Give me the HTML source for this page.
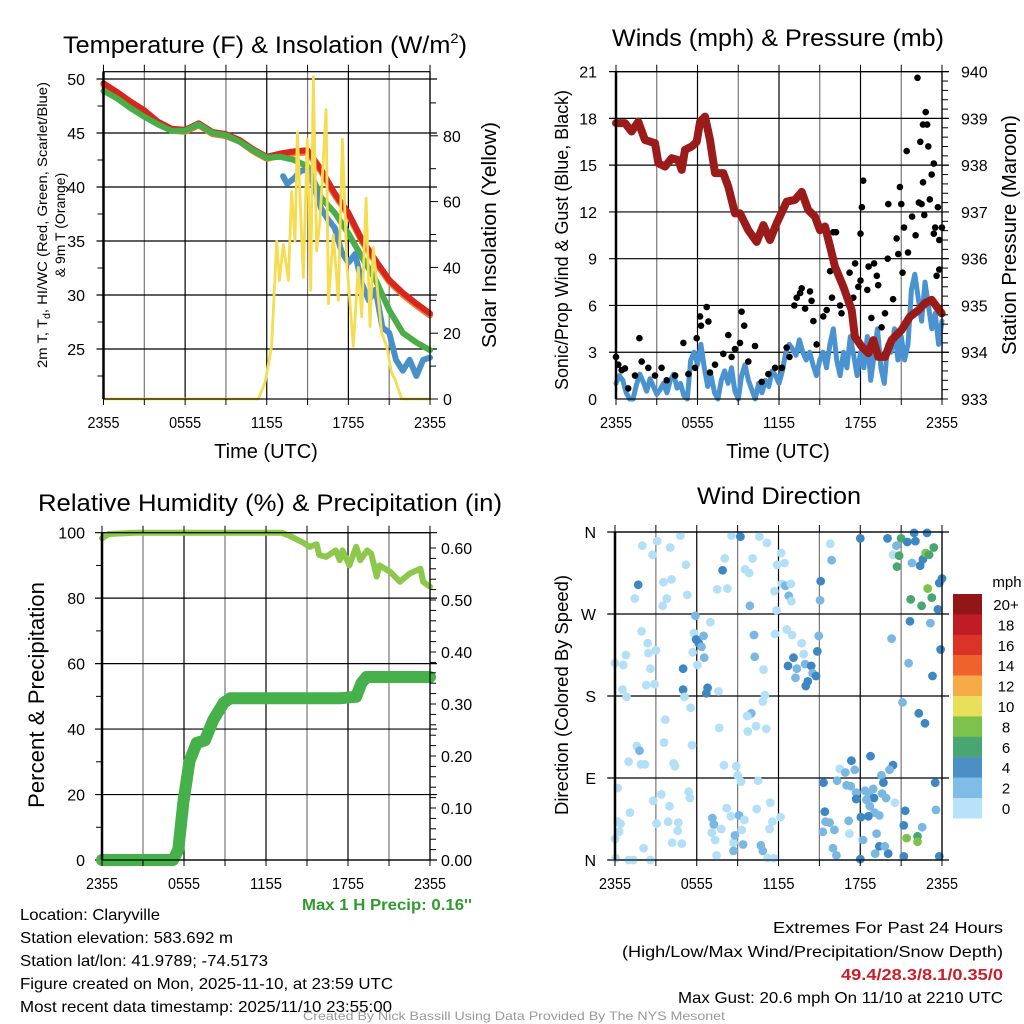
<!DOCTYPE html>
<html><head><meta charset="utf-8"><style>
html,body{margin:0;padding:0;background:#fff;}
svg{display:block;font-family:"Liberation Sans",sans-serif;}
</style></head><body>
<svg id="fig" width="1024" height="1024" viewBox="0 0 1024 1024">
<rect x="0" y="0" width="1024" height="1024" fill="#fff"/>
<g id="grid"></g>
<g id="marks"></g>
<g id="axes"></g>
<text x="265" y="53" font-size="24" text-anchor="middle" textLength="404" lengthAdjust="spacingAndGlyphs">Temperature (F) &amp; Insolation (W/m<tspan font-size="14" dy="-10">2</tspan><tspan dy="10">)</tspan></text>
<text x="778" y="46" font-size="24" text-anchor="middle" textLength="332" lengthAdjust="spacingAndGlyphs">Winds (mph) &amp; Pressure (mb)</text>
<text x="270" y="511" font-size="24" text-anchor="middle" textLength="464" lengthAdjust="spacingAndGlyphs">Relative Humidity (%) &amp; Precipitation (in)</text>
<text x="779" y="504" font-size="24" text-anchor="middle" textLength="164" lengthAdjust="spacingAndGlyphs">Wind Direction</text>
<text x="266" y="458" font-size="20" text-anchor="middle">Time (UTC)</text>
<text x="778" y="458" font-size="20" text-anchor="middle">Time (UTC)</text>
<text transform="translate(47,225) rotate(-90)" font-size="14" text-anchor="middle" textLength="286" lengthAdjust="spacingAndGlyphs">2m T, T<tspan font-size="10" dy="3">d</tspan><tspan dy="-3">, HI/WC (Red, Green, Scarlet/Blue)</tspan></text>
<text transform="translate(65,225) rotate(-90)" font-size="14" text-anchor="middle">&amp; 9m T (Orange)</text>
<text transform="translate(496,235) rotate(-90)" font-size="20" text-anchor="middle" textLength="226" lengthAdjust="spacingAndGlyphs">Solar Insolation (Yellow)</text>
<text transform="translate(568,240) rotate(-90)" font-size="18" text-anchor="middle" textLength="300" lengthAdjust="spacingAndGlyphs">Sonic/Prop Wind &amp; Gust (Blue, Black)</text>
<text transform="translate(1016,235) rotate(-90)" font-size="20" text-anchor="middle" textLength="240" lengthAdjust="spacingAndGlyphs">Station Pressure (Maroon)</text>
<text transform="translate(44,695) rotate(-90)" font-size="22" text-anchor="middle" textLength="226" lengthAdjust="spacingAndGlyphs">Percent &amp; Precipitation</text>
<text transform="translate(568,695) rotate(-90)" font-size="18" text-anchor="middle" textLength="240" lengthAdjust="spacingAndGlyphs">Direction (Colored By Speed)</text>
<text x="472" y="910" font-size="16" font-weight="bold" fill="#2f9a2f" text-anchor="end" textLength="170" lengthAdjust="spacingAndGlyphs">Max 1 H Precip: 0.16''</text>
<text x="20" y="920" font-size="16" textLength="140" lengthAdjust="spacingAndGlyphs">Location: Claryville</text>
<text x="20" y="943" font-size="16" textLength="213" lengthAdjust="spacingAndGlyphs">Station elevation: 583.692 m</text>
<text x="20" y="966" font-size="16" textLength="248" lengthAdjust="spacingAndGlyphs">Station lat/lon: 41.9789; -74.5173</text>
<text x="20" y="989" font-size="16" textLength="373" lengthAdjust="spacingAndGlyphs">Figure created on Mon, 2025-11-10, at 23:59 UTC</text>
<text x="20" y="1012" font-size="16" textLength="372" lengthAdjust="spacingAndGlyphs">Most recent data timestamp: 2025/11/10 23:55:00</text>
<text x="1003" y="933" font-size="16" text-anchor="end" textLength="230" lengthAdjust="spacingAndGlyphs">Extremes For Past 24 Hours</text>
<text x="1003" y="957" font-size="16" text-anchor="end" textLength="381" lengthAdjust="spacingAndGlyphs">(High/Low/Max Wind/Precipitation/Snow Depth)</text>
<text x="1003" y="980" font-size="16" font-weight="bold" fill="#c8202a" text-anchor="end" textLength="162" lengthAdjust="spacingAndGlyphs">49.4/28.3/8.1/0.35/0</text>
<text x="1003" y="1003" font-size="16" text-anchor="end" textLength="325" lengthAdjust="spacingAndGlyphs">Max Gust: 20.6 mph On 11/10 at 2210 UTC</text>
<text x="514" y="1020" font-size="12" fill="#999" text-anchor="middle" textLength="422" lengthAdjust="spacingAndGlyphs">Created By Nick Bassill Using Data Provided By The NYS Mesonet</text>
<text x="1007" y="587" font-size="15" text-anchor="middle">mph</text>
<g id="legend"></g>
</svg>
<script>
// ---------- DATA ----------
const tempHours = [0,1,2,3,4,5,6,7,8,9,10,11,12,13,14,15,16,17,18,19,20,21,22,23,24];
const temp2m = [49.6,48.8,47.9,47.1,46.05,45.4,45.3,45.9,45.1,44.9,44.35,43.5,42.8,43.1,43.3,43.4,41.6,39.4,37.6,35.1,33.2,31.4,30.2,29.2,28.3];
const temp9m = [49.4,48.6,47.7,46.9,45.9,45.2,45.1,45.7,44.9,44.7,44.2,43.3,42.6,42.9,43.1,43.2,41.4,39.2,37.4,34.9,33.0,31.2,30.0,29.0,28.1];
const dewpoint = [48.9,48.2,47.3,46.5,45.8,45.2,45.2,45.8,45.0,44.8,44.2,43.4,42.7,42.8,42.5,41.9,39.0,37.6,35.7,33.5,31.4,28.6,26.5,25.6,24.9];
const wcHours = [6.8,9.9,13.2,13.5,14,14.5,15,15.5,16,16.5,17,17.5,18,18.5,19,19.5,20,20.5,21,21.5,22,22.5,23,23.5,24];
const windChill = [44.1,43.6,41.0,40.3,40.8,41.5,41.6,40.0,38.0,37.0,36.2,34.0,33.0,33.8,31.0,29.5,30.5,27.0,26.5,24.0,23.0,24.0,22.5,24.0,24.2];
const solarHours = [0,11.38,11.87,12.36,12.73,12.93,13.22,13.59,13.83,14.08,14.25,14.69,14.98,15.23,15.42,15.67,15.91,16.36,16.53,16.89,17.26,17.56,17.88,18.36,18.73,18.98,19.30,19.59,19.83,20.45,20.82,21.18,21.43,21.92,24];
const solar = [0,0,5,16,48,36,47,36,63,48,81,37,79,33,98,45,54,88,29,50,30,79,42,16,40,25,61,22,46,20,16,8,6,0,0];

const pressHours = [0,0.66,1.15,1.64,2.13,2.87,3.12,3.61,4.10,4.59,4.84,5.08,5.57,5.94,6.19,6.55,6.92,7.29,7.90,8.27,8.76,9.13,9.74,10.36,10.85,11.34,11.83,12.57,13.18,13.67,14.16,14.65,15.02,15.39,15.76,16.12,16.74,17.35,17.59,18.09,18.58,18.94,19.31,19.80,20.29,21.03,21.64,22.26,22.75,23.24,23.98];
const pressure = [938.90,938.90,938.72,938.93,938.54,938.47,938.04,937.97,938.15,938.11,937.90,938.33,938.40,938.50,938.93,939.04,938.54,937.83,937.83,937.54,936.97,936.97,936.61,936.36,936.72,936.40,936.76,937.22,937.26,937.43,937.04,936.90,936.61,936.69,936.26,935.83,935.40,934.90,934.33,934.12,933.98,934.26,933.90,933.90,934.26,934.48,934.76,934.90,935.05,935.12,934.83];
const windStep = 0.25;
const windSpeed = [1.0,1.5,1.2,0.4,0.0,0.0,0.9,1.6,1.1,0.5,1.3,0.8,0.3,
 0.6,1.0,0.4,1.2,1.6,0.7,1.0,0.2,0.0,2.5,3.0,2.2,
 3.5,2.0,0.8,1.5,0.4,0.0,1.2,1.8,1.0,2.0,0.5,0.0,
 1.5,2.2,1.2,0.6,0.0,1.0,0.4,1.2,0.8,1.8,1.5,1.0,
 1.8,3.0,3.5,3.2,2.8,3.8,3.0,2.5,3.0,2.2,1.5,2.5,
 3.0,2.0,3.5,4.5,2.5,1.5,3.0,2.0,4.0,2.8,1.5,3.0,
 2.0,4.0,1.2,2.8,4.5,2.0,1.0,3.5,3.0,4.5,2.5,4.0,
 2.5,3.5,7.0,8.0,6.5,5.0,7.5,6.0,4.5,5.5,3.5,5.0];
const gustHours = [0.0,0.17,0.42,0.66,0.9,1.4,1.72,1.89,2.38,2.87,3.36,3.73,4.35,4.96,5.33,5.82,5.94,6.19,6.26,6.68,6.8,6.92,7.29,7.9,8.27,8.51,8.76,9.25,9.44,9.13,9.74,10.23,10.73,11.22,11.71,12.21,12.57,12.77,13.13,13.3,13.55,13.67,13.92,14.28,14.4,14.53,14.77,15.26,15.51,15.76,16.0,16.2,15.9,16.5,16.6,17.2,17.47,17.6,17.84,18.0,18.0,18.1,18.2,18.5,18.6,18.8,19.0,19.2,19.3,19.55,19.8,20.05,20.0,20.4,20.66,20.78,20.9,21.0,21.1,21.2,21.4,21.5,21.8,22.06,22.2,22.3,22.4,22.5,22.6,22.7,22.8,22.6,22.9,22.99,23.1,23.24,23.4,23.4,23.5,23.7,23.8,23.99,23.8,23.6];
const gusts = [2.7,2.2,1.85,1.96,0.68,1.5,3.9,2.4,2.0,1.5,2.0,1.2,1.5,3.6,1.6,2.0,3.9,5.3,4.7,5.9,4.97,1.7,2.2,2.9,4.1,2.7,3.2,5.6,4.7,3.6,2.4,3.4,1.1,1.6,2.0,2.0,3.3,2.7,6.0,6.5,6.8,7.1,5.8,6.9,6.3,5.0,3.5,5.3,5.7,8.2,10.7,10.7,6.5,6.0,5.5,8.1,6.5,8.7,7.2,7.6,10.6,12.3,14.0,7.0,8.5,5.2,8.7,7.9,7.3,4.6,5.5,12.5,9.0,6.4,10.3,9.3,13.6,12.5,8.1,11.0,15.9,9.4,11.7,10.5,20.6,12.6,16.5,12.5,17.6,11.8,18.4,13.9,17.6,16.2,12.8,14.4,15.1,10.6,11.0,12.3,10.2,11.0,8.3,7.9];

const rhHours = [0,0.5,2.5,13.15,13.75,14.7,15.2,15.7,15.9,16.4,17.1,17.4,17.6,18.1,18.6,18.9,19.4,19.7,20.1,20.3,21.1,21.8,22.5,23.3,23.5,24];
const rh = [98.3,99.6,100,100,99,97,95.7,96.5,93.2,92.6,94.6,91.6,94.6,90,95.7,91.6,94.6,93.6,86.6,90,88,85,87.5,89,85,83.5];
const precipHours = [0,5.2,5.58,5.95,6.4,6.93,7.53,8.15,8.9,9.37,17.4,18.6,18.98,19.35,24];
const precip = [0,0,0.02,0.11,0.19,0.225,0.23,0.27,0.302,0.311,0.311,0.314,0.34,0.352,0.352];

const dirHours = [2.0,3.1,2.75,4.05,4.8,1.7,1.45,3.55,4.15,3.8,3.5,5.2,5.3,1.95,2.4,0.8,2.45,3.0,0,0.6,2.6,2.3,2.9,0.55,0.85,5.0,5.0,5.1,5.55,3.7,3.6,5.65,1.6,1.8,1.0,1.9,2.2,4.3,4.4,0.2,2.8,3.4,4.0,5.4,5.5,1.1,0.2,0.4,0.3,3.05,3.9,4.65,4.6,0,2.1,4.2,4.9,0.05,1.0,1.35,2.6,
5.9,5.8,5.95,6.15,6.5,7.0,6.35,5.7,6.55,6.05,6.8,6.7,7.6,7.9,8.05,7.5,8.25,8.55,9.2,10.6,11.15,10.1,9.55,9.85,11.9,12.2,12.45,12.25,12.5,12.9,11.7,12.75,12.95,9.9,11.85,10.2,10.25,10.9,11.75,12.6,13.0,11.0,10.85,10.0,9.7,10.35,9.75,11.1,7.65,8.0,8.9,9.0,9.25,10.5,11.4,10.4,8.2,8.5,9.1,9.5,9.3,7.15,7.25,7.8,7.1,7.35,8.7,8.8,9.4,8.7,10.7,10.85,11.35,11.55,12.15,11.2,11.65,7.45,
13.7,13.85,13.1,12.7,13.35,13.95,14.4,14.5,14.15,14.0,14.75,13.25,14.95,14.85,15.8,15.9,15.1,15.05,17.35,16.5,16.9,17.6,16.3,17.3,17.0,15.3,15.4,15.45,15.25,15.75,16.1,17.2,17.15,16.0,16.25,
18.0,20.0,21.0,20.65,21.45,22.05,21.95,22.9,20.4,20.85,21.8,20.7,22.4,22.6,22.8,23.05,23.4,22.95,23.25,21.7,22.5,23.7,24.0,23.8,21.65,23.15,20.3,23.9,21.55,23.3,21.1,22.3,22.75,18.75,20.4,20.15,19.55,18.35,18.6,18.95,19.0,19.7,19.6,19.9,20.55,17.7,17.7,18.45,18.7,19.05,19.4,18.6,18.05,21.3,21.2,22.55,22.2,21.4,22.2,23.5,23.55,23.8,21.2,20.05,19.1,19.4,19.8,18.2,19.2,18.0];
const dirDegrees = [345,350,335,343,356,302,287,305,308,287,279,324,291,251,238,225,227,230,216,214,210,192,193,187,179,210,187,179,167,154,129,126,125,120,108,105,105,106,103,79,65,72,59,75,68,52,42,40,31,40,42,41,32,23,13,19,18,2,0,0,0,
268,249,242,238,246,261,234,228,222,214,189,183,185,318,331,297,298,356,355,355,348,331,319,315,324,337,326,303,301,303,295,290,284,279,274,247,223,209,248,253,247,181,174,161,158,147,141,144,145,104,103,93,86,87,63,56,57,48,49,44,33,46,39,34,30,22,19,27,17,10,16,10,34,42,47,2,2,5,
238,226,222,213,210,215,213,205,196,191,202,200,246,229,347,329,306,285,109,100,96,99,87,81,82,85,53,42,31,41,33,29,43,13,5,
353,353,353,345,349,350,359,359,335,334,326,322,323,330,337,335,343,298,288,286,279,275,309,304,262,260,243,231,216,202,173,161,150,114,104,99,93,76,73,78,68,85,73,68,63,74,67,66,59,52,49,48,47,54,38,36,26,24,20,85,55,4,4,7,7,15,15,22,29,1];
const dirSpeed = [1,1,1,1,1,5,1,1,1,1,1,1,1,1,1,1,1,1,1,1,1,1,1,1,1,5,5,1,1,1,1,1,1,3,1,1,1,1,1,1,1,1,1,1,1,1,1,1,1,1,1,1,1,1,1,1,1,1,1,1,1,
3,1,5,5,3,1,3,1,3,1,5,5,1,5,1,1,1,1,5,1,1,1,1,1,1,1,1,1,3,1,1,3,1,3,1,3,3,1,1,1,1,1,1,3,1,1,1,1,1,1,1,1,1,1,1,1,1,1,3,1,1,3,3,1,1,1,1,3,3,3,3,3,1,1,1,1,1,1,1,1,
5,5,3,3,5,3,5,5,5,3,3,5,1,3,5,3,5,1,3,3,3,3,3,5,5,3,3,3,3,1,3,3,3,5,5,
7,3,5,5,5,5,1,7,3,7,5,5,9,7,7,9,7,7,7,5,5,5,5,3,3,5,3,5,3,5,5,5,5,3,3,3,3,3,5,5,3,3,1,3,5,3,3,3,3,5,5,5,5,3,7,9,9,5,3,5,5,5,3,5,3,3,3,5,3,5];
const legendLabels = ['20+','18','16','14','12','10','8','6','4','2','0'];
const legendColors = ['#921618','#bf1c25','#dc3328','#ef622c','#f6ab46','#e8e05a','#7dc24b','#4aa671','#4a8fc6','#80bde6','#b8e2f8'];

// ---------- helpers ----------
const NS='http://www.w3.org/2000/svg';
function mk(tag, parent){const e=document.createElementNS(NS,tag);parent.appendChild(e);return e;}
const G=document.getElementById('grid'), M=document.getElementById('marks'), A=document.getElementById('axes'), L=document.getElementById('legend');

const P1={x0:103.5,x1:430,y0:71.7,y1:399};
const P2={x0:616,x1:942,y0:71.7,y1:399};
const P3={x0:102,x1:430,y0:532.7,y1:860};
const P4={x0:615,x1:942,y0:532,y1:860};
function xs(P){return t=>P.x0+t/24*(P.x1-P.x0);}
const x1s=xs(P1),x2s=xs(P2),x3s=xs(P3),x4s=xs(P4);
const yTemp=v=>79+(50-v)*10.8;
const ySolar=s=>399-s*3.29;
const yWind=v=>399-v*15.59;
const yPress=p=>399-(p-933)*46.76;
const yRH=v=>860-v*3.273;
const yPrecip=p=>860-p*520;
const yDir=d=>860-d/360*328;

function line(parent,x1,y1,x2,y2,stroke,w){const l=mk('line',parent);l.setAttribute('x1',x1);l.setAttribute('y1',y1);l.setAttribute('x2',x2);l.setAttribute('y2',y2);l.setAttribute('stroke',stroke);l.setAttribute('stroke-width',w);return l;}
function txt(parent,x,y,s,anchor,size){const t=mk('text',parent);t.setAttribute('x',x);t.setAttribute('y',y);t.setAttribute('font-size',size||16);t.setAttribute('text-anchor',anchor);t.textContent=s;return t;}

const xLabels=['2355','0555','1155','1755','2355'];
function panelFrame(P,xsf,hLines,name){
  for(let h=0;h<=24;h+=3){
    const gl=line(G,xsf(h),P.y0,xsf(h),P.y1,(h%6===0)?'#000':'#777',1.2);
    
    
    const tk=line(A,xsf(h),P.y0-7,xsf(h),P.y0,'#000',1);
    
    
    const tb=line(A,xsf(h),P.y1,xsf(h),P.y1+6,'#000',1);
    
    
  }
  hLines.forEach(y=>{
    const hl=line(G,P.x0-7,y,P.x1+7,y,'#000',1.2);
    
    
  });
  const fr=mk('rect',A);fr.setAttribute('x',P.x0);fr.setAttribute('y',P.y0);fr.setAttribute('width',P.x1-P.x0);fr.setAttribute('height',P.y1-P.y0);fr.setAttribute('fill','none');fr.setAttribute('stroke','#000');fr.setAttribute('stroke-width','1.2');
  
  
  const lb=line(A,P.x0,P.y0,P.x0,P.y1,'#000',2.5);
  
  
  xLabels.forEach((s,i)=>{
    const t=txt(A,xsf(i*6),P.y1+29,s,'middle',16);
    t.setAttribute('textLength','32');t.setAttribute('lengthAdjust','spacingAndGlyphs');
    
    
  });
}
panelFrame(P1,x1s,[25,30,35,40,45,50].map(yTemp),'temp');
panelFrame(P2,x2s,[3,6,9,12,15,18,21].map(yWind),'wind');
panelFrame(P3,x3s,[0,20,40,60,80,100].map(yRH),'rh');
panelFrame(P4,x4s,[0,90,180,270,360].map(yDir),'dir');

function yTicks(vals,yf,x,anchor,name,fmt){
  vals.forEach(v=>{
    const y=yf(v);
    const t=txt(A,x,y+6,fmt?fmt(v):String(v),anchor,16);
    
    
  });
}
yTicks([25,30,35,40,45,50],yTemp,85,'end','temp-y-tick-label');
yTicks([0,20,40,60,80],ySolar,443,'start','solar-y-tick-label');
yTicks([0,3,6,9,12,15,18,21],yWind,597,'end','wind-y-tick-label');
yTicks([933,934,935,936,937,938,939,940],yPress,961,'start','pressure-y-tick-label');
yTicks([0,20,40,60,80,100],yRH,85,'end','rh-y-tick-label');
yTicks([0,0.1,0.2,0.3,0.4,0.5,0.6],yPrecip,441,'start','precip-y-tick-label',v=>v.toFixed(2));
const dirNames=['N','E','S','W','N'];
[0,90,180,270,360].forEach((d,i)=>{
  const t=txt(A,596,yDir(d)+6,dirNames[i],'end',16);
  
  
  const tk=line(A,P4.x0-8,yDir(d),P4.x0,yDir(d),'#000',1);
  
  
});
function minor(vals,yf,x,dx,name){vals.forEach(v=>{const l=line(A,x,yf(v),x+dx,yf(v),'#000',1);
  
  });}
minor([22.5,27.5,32.5,37.5,42.5,47.5],yTemp,P1.x0,-6,'temp-minor-tick');
minor([10,30,50,70,90],ySolar,P1.x1,6,'solar-minor-tick');
minor([0,20,40,60,80],ySolar,P1.x1,8,'solar-major-tick');
minor([10,30,50,70,90],yRH,P3.x0,-6,'rh-minor-tick');
const pMinor=[];for(let p=933;p<=940.001;p+=0.2)pMinor.push(p);
minor(pMinor,yPress,P2.x1,6,'pressure-minor-tick');
const ppMinor=[];for(let p=0;p<=0.62;p+=0.02)ppMinor.push(p);
minor(ppMinor,yPrecip,P3.x1,6,'precip-minor-tick');

function pathFrom(hours,vals,xf,yf,maxGap){
  let d='';let prev=null;
  hours.forEach((h,i)=>{const v=vals[i];if(v===null)return;
    const cmd=(prev===null||h-prev>maxGap)?'M':'L';
    d+=cmd+xf(h).toFixed(1)+','+yf(v).toFixed(1)+' ';prev=h;});
  return d;
}
function drawLine(d,stroke,w,name){
  const p=mk('path',M);p.setAttribute('d',d);p.setAttribute('fill','none');p.setAttribute('stroke',stroke);p.setAttribute('stroke-width',w);p.setAttribute('stroke-linejoin','round');p.setAttribute('stroke-linecap','round');
  
  
  return p;
}
drawLine(pathFrom(tempHours,temp9m,x1s,yTemp,9),'#f07b30',6,'temp-9m-line');
drawLine(pathFrom(tempHours,temp2m,x1s,yTemp,9),'#d7261e',6,'temp-2m-line');
drawLine(pathFrom(tempHours,dewpoint,x1s,yTemp,9),'#4aae48',6,'dewpoint-line');
drawLine(pathFrom(wcHours,windChill,x1s,yTemp,1),'#4a90c8',6,'wind-chill-line');
drawLine(pathFrom(solarHours,solar,x1s,ySolar,30),'#f5dc50',2.8,'solar-insolation-line');
const wHours=windSpeed.map((v,i)=>i*windStep);
drawLine(pathFrom(wHours,windSpeed,x2s,yWind,1),'#4a93d0',5,'sonic-wind-line');
gustHours.forEach((h,i)=>{
  const c=mk('circle',M);c.setAttribute('cx',x2s(h).toFixed(1));c.setAttribute('cy',yWind(gusts[i]).toFixed(1));c.setAttribute('r','3.3');c.setAttribute('fill','#000');
  
  
});
drawLine(pathFrom(pressHours,pressure,x2s,yPress,9),'#9b1b1b',8,'pressure-line');
drawLine(pathFrom(rhHours,rh,x3s,yRH,30),'#8dc84c',6,'relative-humidity-line');
drawLine(pathFrom(precipHours,precip,x3s,yPrecip,30),'#46b04a',12,'precipitation-line');
function spdColor(s){if(s<2)return '#b3e0f7';if(s<4)return '#7ab8e3';if(s<6)return '#3f87c3';if(s<8)return '#4aa671';if(s<10)return '#7dc24b';if(s<12)return '#e8e05a';if(s<14)return '#f6ab46';if(s<16)return '#ef622c';if(s<18)return '#dc3328';if(s<20)return '#bf1c25';return '#921618';}
dirHours.forEach((h,i)=>{
  const c=mk('circle',M);c.setAttribute('cx',x4s(h).toFixed(1));c.setAttribute('cy',yDir(dirDegrees[i]).toFixed(1));c.setAttribute('r','4.4');c.setAttribute('fill',spdColor(dirSpeed[i]));
  
  
});
legendLabels.forEach((s,i)=>{
  const y=594+i*20.4;
  const r=mk('rect',L);r.setAttribute('x',953);r.setAttribute('y',y.toFixed(1));r.setAttribute('width',29);r.setAttribute('height',20.6);r.setAttribute('fill',legendColors[i]);
  
  
  const t=txt(L,1006,y+16,s,'middle',15);
  
  
});
</script>
</body></html>
